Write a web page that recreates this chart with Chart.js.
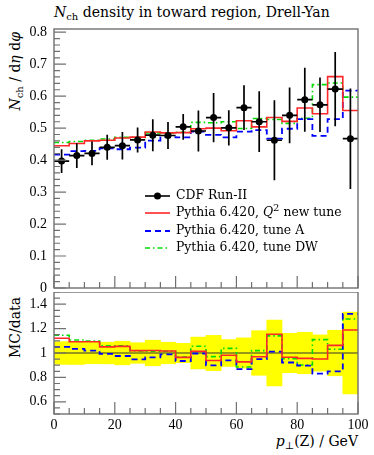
<!DOCTYPE html>
<html lang="en">
<head>
<meta charset="UTF-8" />
<title>Nch density in toward region, Drell-Yan</title>
<script src="https://cdn.jsdelivr.net/npm/chart.js"></script>
<style>
    body { margin: 0; background: #fff; }
    #wrap { position: relative; width: 374px; height: 455px; font-family: "DejaVu Serif", serif; color: #000; overflow: hidden; }
    #mainBox { position: absolute; left: 0; top: 0; }
    #ratioBox { position: absolute; left: 0; top: 292px; }
    .txt { position: absolute; white-space: nowrap; font-size: 14px; line-height: 18px; }
    .rot { transform-origin: 0 0; transform: rotate(-90deg); text-align: right; }
    sub { font-size: 10px; vertical-align: -3px; line-height: 0; }
    sup { font-size: 10px; vertical-align: 5px; line-height: 0; }
    .leg { position: absolute; left: 145px; white-space: nowrap; font-size: 12.4px; line-height: 17px; }
    .leg svg { vertical-align: middle; margin-right: 6px; }
</style>
</head>
<body>
<div id="wrap">
    <div class="txt" style="left:54px; top:3px;"><i>N</i><sub>ch</sub> density in toward region, Drell-Yan</div>
    <div class="txt rot" style="left:6px; top:172px; width:140px;"><i>N</i><sub>ch</sub> / d<i>η</i> d<i>φ</i></div>
    <div class="txt rot" style="left:6px; top:397px; width:100px;">MC/data</div>
    <div class="txt" style="right:16px; top:432px;"><i>p</i><sub>⊥</sub>(Z) / GeV</div>

    <div id="mainBox"><canvas id="mainChart" width="374" height="292"></canvas></div>
    <div id="ratioBox"><canvas id="ratioChart" width="374" height="163"></canvas></div>

    <div class="leg" style="top:186px;"><svg width="25" height="10"><line x1="0" y1="5" x2="25" y2="5" stroke="#000" stroke-width="1.6"/><circle cx="12.5" cy="5" r="3.5" fill="#000"/></svg>CDF Run-II</div>
    <div class="leg" style="top:203px;"><svg width="25" height="10"><line x1="0" y1="5" x2="25" y2="5" stroke="rgb(255,40,40)" stroke-width="1.6"/></svg>Pythia 6.420, <i>Q</i><sup>2</sup> new tune</div>
    <div class="leg" style="top:221px;"><svg width="25" height="10"><line x1="0" y1="5" x2="25" y2="5" stroke="#0000ff" stroke-width="1.8" stroke-dasharray="6,4"/></svg>Pythia 6.420, tune A</div>
    <div class="leg" style="top:238px;"><svg width="25" height="10"><line x1="0" y1="5" x2="25" y2="5" stroke="#00dd00" stroke-width="1.6" stroke-dasharray="5,3,1.5,3"/></svg>Pythia 6.420, tune DW</div>
</div>

<script>
    // bins in pT(Z) [GeV]
    const binEdges = [0, 5, 10, 15, 20, 25, 30, 35, 40, 45, 50, 55, 60, 65, 70, 75, 80, 85, 90, 95, 100];

    // CDF Run-II data and errors
    const dataVals = [0.397, 0.414, 0.421, 0.440, 0.445, 0.463, 0.478, 0.477, 0.504, 0.491,
                      0.533, 0.501, 0.564, 0.520, 0.462, 0.540, 0.589, 0.573, 0.622, 0.467];
    const dataErr = [0.037, 0.039, 0.037, 0.039, 0.043, 0.039, 0.050, 0.042, 0.040, 0.064,
                     0.077, 0.055, 0.070, 0.095, 0.125, 0.087, 0.100, 0.085, 0.116, 0.157];

    // Pythia 6.420 predictions
    const q2NewTune = [0.445, 0.452, 0.460, 0.462, 0.469, 0.472, 0.488, 0.485, 0.486, 0.498,
                       0.500, 0.492, 0.523, 0.504, 0.533, 0.521, 0.563, 0.545, 0.661, 0.555];
    const tuneA = [0.417, 0.428, 0.429, 0.437, 0.434, 0.439, 0.461, 0.472, 0.471, 0.489,
                   0.479, 0.471, 0.489, 0.494, 0.467, 0.498, 0.528, 0.476, 0.528, 0.617];
    const tuneDW = [0.455, 0.458, 0.462, 0.466, 0.471, 0.471, 0.485, 0.484, 0.487, 0.518,
                    0.517, 0.520, 0.499, 0.530, 0.527, 0.515, 0.531, 0.636, 0.641, 0.597];

    // tick labels
    const xTicks = [0, 20, 40, 60, 80, 100];
    const yTicksMain = [0, 0.1, 0.2, 0.3, 0.4, 0.5, 0.6, 0.7, 0.8];
    const yTicksRatio = [0.6, 0.8, 1, 1.2, 1.4];

    const RED = 'rgb(255,40,40)';
    const BLUE = '#0000ff';
    const GREEN = '#00dd00';
    const FRAME = '#707070';

    Chart.defaults.font.family = '"Liberation Serif", serif';
    Chart.defaults.font.size = 14;
    Chart.defaults.color = '#000';

    const centres = binEdges.slice(0, -1).map((e, i) => (e + binEdges[i + 1]) / 2);
    const stepPts = vals => binEdges.map((e, i) => ({ x: e, y: vals[Math.min(i, vals.length - 1)] }));
    const ratioOf = vals => vals.map((v, i) => v / dataVals[i]);

    function minorList(lo, hi, step) {
        const out = [];
        for (let v = lo; v <= hi + 1e-9; v += step) out.push(+v.toFixed(4));
        return out;
    }

    // box round the panel plus inward ticks on left and bottom
    function framePlugin(id, yMajor, yMinor) {
        return {
            id: id,
            afterDraw(chart) {
                const { ctx, chartArea: a } = chart;
                const xs = chart.scales.x, ys = chart.scales.y;
                ctx.save();
                ctx.strokeStyle = FRAME;
                ctx.lineWidth = 1.2;
                ctx.beginPath();
                yMinor.forEach(v => { const p = ys.getPixelForValue(v); ctx.moveTo(a.left, p); ctx.lineTo(a.left + 6, p); });
                yMajor.forEach(v => { const p = ys.getPixelForValue(v); ctx.moveTo(a.left, p); ctx.lineTo(a.left + 12, p); });
                minorList(0, 100, 5).forEach(v => { const p = xs.getPixelForValue(v); ctx.moveTo(p, a.bottom); ctx.lineTo(p, a.bottom - 6); });
                xTicks.forEach(v => { const p = xs.getPixelForValue(v); ctx.moveTo(p, a.bottom); ctx.lineTo(p, a.bottom - 12); });
                ctx.stroke();
                ctx.lineWidth = 1.4;
                ctx.strokeRect(a.left, a.top, a.right - a.left, a.bottom - a.top);
                ctx.restore();
            }
        };
    }

    const errorBars = {
        id: 'errorBars',
        afterDatasetsDraw(chart) {
            const { ctx } = chart;
            const xs = chart.scales.x, ys = chart.scales.y;
            ctx.save();
            ctx.strokeStyle = '#000';
            ctx.lineWidth = 1.7;
            ctx.beginPath();
            dataVals.forEach((v, i) => {
                const yc = ys.getPixelForValue(v);
                const xc = xs.getPixelForValue(centres[i]);
                ctx.moveTo(xs.getPixelForValue(binEdges[i]), yc);
                ctx.lineTo(xs.getPixelForValue(binEdges[i + 1]), yc);
                ctx.moveTo(xc, ys.getPixelForValue(v - dataErr[i]));
                ctx.lineTo(xc, ys.getPixelForValue(v + dataErr[i]));
            });
            ctx.stroke();
            ctx.restore();
        }
    };

    const fmt = v => Number.isInteger(v) ? String(v) : v.toFixed(1);

    // fixed axis width, no extra room for half labels
    const fixY = scale => {
        scale.width = 54;
        scale.paddingTop = 0;
        scale.paddingBottom = 0;
    };

    function stepSet(label, vals, color, dash, width) {
        return {
            type: 'line', label: label, data: stepPts(vals), stepped: true,
            borderColor: color, borderWidth: width, borderDash: dash,
            pointRadius: 0, fill: false
        };
    }

    new Chart(document.getElementById('mainChart').getContext('2d'), {
        type: 'line',
        data: {
            datasets: [
                {
                    type: 'scatter', label: 'CDF Run-II',
                    data: centres.map((c, i) => ({ x: c, y: dataVals[i] })),
                    pointRadius: 3.5, backgroundColor: '#000', borderWidth: 0, showLine: false
                },
                stepSet('Pythia 6.420, Q2 new tune', q2NewTune, RED, [], 1.6),
                stepSet('Pythia 6.420, tune A', tuneA, BLUE, [6, 4], 1.8),
                stepSet('Pythia 6.420, tune DW', tuneDW, GREEN, [5, 3, 1.5, 3], 1.6)
            ]
        },
        options: {
            responsive: false,
            animation: false,
            layout: { padding: { top: 29, right: 16, bottom: 0, left: 0 } },
            scales: {
                x: { type: 'linear', min: 0, max: 100, display: false, offset: false },
                y: {
                    type: 'linear', min: 0, max: 0.81,
                    grid: { display: false, drawTicks: false },
                    border: { display: false },
                    afterBuildTicks: axis => { axis.ticks = yTicksMain.map(v => ({ value: v })); },
                    afterFit: fixY,
                    ticks: { padding: 7, callback: v => fmt(v) }
                }
            },
            plugins: { legend: { display: false }, tooltip: { enabled: false } }
        },
        plugins: [errorBars, framePlugin('mainFrame', yTicksMain, minorList(0, 0.8, 0.02))]
    });

    new Chart(document.getElementById('ratioChart').getContext('2d'), {
        type: 'line',
        data: {
            datasets: [
                stepSet('Q2 new tune / data', ratioOf(q2NewTune), RED, [], 1.6),
                stepSet('tune A / data', ratioOf(tuneA), BLUE, [6, 4], 1.8),
                stepSet('tune DW / data', ratioOf(tuneDW), GREEN, [5, 3, 1.5, 3], 1.6),
                {
                    type: 'line', label: 'unity', data: [{ x: 0, y: 1 }, { x: 100, y: 1 }],
                    borderColor: '#333', borderWidth: 1, pointRadius: 0
                },
                {
                    type: 'bar', label: 'data uncertainty',
                    data: centres.map((c, i) => ({ x: c, y: [1 - dataErr[i] / dataVals[i], 1 + dataErr[i] / dataVals[i]] })),
                    backgroundColor: '#ffff00', borderWidth: 0,
                    barPercentage: 1, categoryPercentage: 1
                }
            ]
        },
        options: {
            responsive: false,
            animation: false,
            layout: { padding: { top: 0, right: 16, bottom: 0, left: 0 } },
            scales: {
                x: {
                    type: 'linear', min: 0, max: 100, offset: false,
                    grid: { display: false, drawTicks: false },
                    border: { display: false },
                    afterBuildTicks: axis => { axis.ticks = xTicks.map(v => ({ value: v })); },
                    afterFit: scale => { scale.height = 41; },
                    ticks: { padding: 3, maxRotation: 0, callback: v => String(v) }
                },
                y: {
                    type: 'linear', min: 0.5, max: 1.5,
                    grid: { display: false, drawTicks: false },
                    border: { display: false },
                    afterBuildTicks: axis => { axis.ticks = yTicksRatio.map(v => ({ value: v })); },
                    afterFit: fixY,
                    ticks: { padding: 7, callback: v => fmt(v) }
                }
            },
            plugins: { legend: { display: false }, tooltip: { enabled: false } }
        },
        plugins: [framePlugin('ratioFrame', yTicksRatio, minorList(0.5, 1.5, 0.05))]
    });
</script>
</body>
</html>
